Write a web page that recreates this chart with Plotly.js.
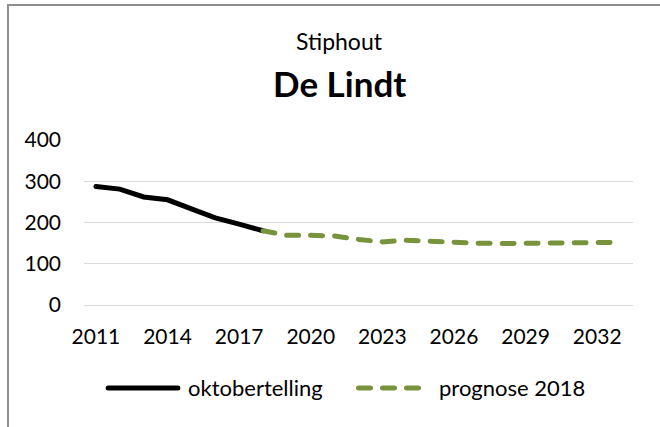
<!DOCTYPE html>
<html>
<head>
<meta charset="utf-8">
<script src="https://cdn.plot.ly/plotly-3.0.1.min.js"></script>
<style>
  html, body { margin: 0; padding: 0; background: #fff; }
  #wrap { position: relative; width: 660px; height: 427px; overflow: hidden; }
  #chart { position: absolute; left: 0; top: 0; width: 660px; height: 427px; }
  #frame { position: absolute; left: 7px; top: 4px; width: 700px; height: 500px;
           border-left: 2px solid #8f8f8f; border-top: 2px solid #8f8f8f; pointer-events: none; }
  .js-line, .shapelayer path { stroke-linecap: round; }
</style>
</head>
<body>
<div id="wrap"><div id="chart"></div><div id="frame"></div></div>
<script>
const countYears = [2011, 2012, 2013, 2014, 2015, 2016, 2017, 2018];
const countValues = [287, 281, 262, 255, 233, 211, 196, 180];
const forecastYears = [2018, 2019, 2020, 2021, 2022, 2023, 2024, 2025, 2026, 2027, 2028, 2029, 2030, 2031, 2032, 2033];
const forecastValues = [180, 169, 169, 167, 159, 153, 157, 154, 152, 150, 149, 149, 149, 150, 151, 152];
const xTicks = [2011, 2014, 2017, 2020, 2023, 2026, 2029, 2032];
const yTicks = [0, 100, 200, 300, 400];
const seriesNames = ['oktobertelling', 'prognose 2018'];
const seriesColors = ['#000000', '#77933c'];
const titleTop = 'Stiphout';
const titleMain = 'De Lindt';

const font = 'Lato, "Open Sans", sans-serif';
const DASH = '12px,12px';

const traces = [
  { x: countYears, y: countValues, name: seriesNames[0], mode: 'lines',
    line: { color: seriesColors[0], width: 5 } },
  { x: forecastYears, y: forecastValues, name: seriesNames[1], mode: 'lines',
    line: { color: seriesColors[1], width: 5, dash: DASH } }
];

// custom legend (longer line samples, like the original)
const legY = -0.503;
const legendShapes = [
  { type: 'line', xref: 'paper', yref: 'paper', x0: 0.044, x1: 0.171, y0: legY, y1: legY,
    line: { color: seriesColors[0], width: 5 } },
  { type: 'line', xref: 'paper', yref: 'paper', x0: 0.500, x1: 0.617, y0: legY, y1: legY,
    line: { color: seriesColors[1], width: 5, dash: DASH } }
];
const legendLabels = [
  { text: seriesNames[0], xref: 'paper', yref: 'paper', x: 0.186, y: legY, xanchor: 'left', yanchor: 'middle',
    showarrow: false, font: { family: font, size: 22, color: '#000' } },
  { text: seriesNames[1], xref: 'paper', yref: 'paper', x: 0.643, y: legY, xanchor: 'left', yanchor: 'middle',
    showarrow: false, font: { family: font, size: 22, color: '#000' } }
];

const layout = {
  width: 660, height: 427,
  margin: { l: 84, r: 27, t: 140, b: 122 },
  paper_bgcolor: '#ffffff', plot_bgcolor: '#ffffff',
  font: { family: font, size: 21, color: '#000000' },
  showlegend: false,
  xaxis: { range: [2010.5, 2033.5], tickvals: xTicks, ticktext: xTicks.map(String),
           showgrid: false, zeroline: false, showline: false, ticks: '',
           ticklabelstandoff: 17, tickfont: { family: font, size: 21, color: '#000' } },
  yaxis: { range: [0, 400], tickvals: yTicks, showgrid: true, gridcolor: '#d9d9d9', gridwidth: 1,
           zeroline: true, zerolinecolor: '#d9d9d9', zerolinewidth: 1, showline: false, ticks: '', ticklabelstandoff: 22,
           tickfont: { family: font, size: 21, color: '#000' } },
  shapes: legendShapes,
  annotations: [
    { text: titleTop, xref: 'paper', yref: 'paper', x: 0.465, y: 1.60, xanchor: 'center', yanchor: 'middle',
      showarrow: false, font: { family: font, size: 23, color: '#000' } },
    { text: '<b>' + titleMain + '</b>', xref: 'paper', yref: 'paper', x: 0.465, y: 1.345, xanchor: 'center', yanchor: 'middle',
      showarrow: false, font: { family: font, size: 35, color: '#000' } }
  ].concat(legendLabels)
};

Plotly.newPlot('chart', traces, layout, { displayModeBar: false, staticPlot: true });
</script>
</body>
</html>
